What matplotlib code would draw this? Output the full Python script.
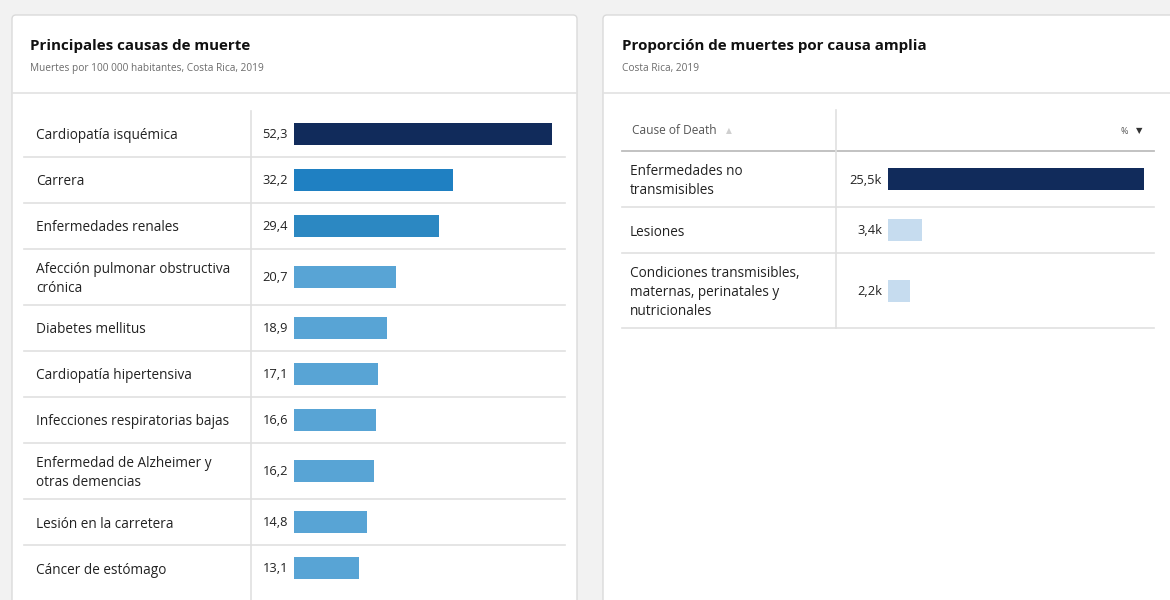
import matplotlib
matplotlib.use("Agg")
import matplotlib.pyplot as plt
from matplotlib.patches import FancyBboxPatch
from matplotlib.transforms import blended_transform_factory, offset_copy

plt.rcParams["font.family"] = ["Open Sans", "Noto Sans", "DejaVu Sans"]

W, H = 1170, 600

# --- data -----------------------------------------------------------------
left_title = "Principales causas de muerte"
left_subtitle = "Muertes por 100 000 habitantes, Costa Rica, 2019"
left_causes = [
    "Cardiopatía isquémica",
    "Carrera",
    "Enfermedades renales",
    "Afección pulmonar obstructiva\ncrónica",
    "Diabetes mellitus",
    "Cardiopatía hipertensiva",
    "Infecciones respiratorias bajas",
    "Enfermedad de Alzheimer y\notras demencias",
    "Lesión en la carretera",
    "Cáncer de estómago",
]
left_values = [52.3, 32.2, 29.4, 20.7, 18.9, 17.1, 16.6, 16.2, 14.8, 13.1]

right_title = "Proporción de muertes por causa amplia"
right_subtitle = "Costa Rica, 2019"
right_header = "Cause of Death"
right_causes = [
    "Enfermedades no\ntransmisibles",
    "Lesiones",
    "Condiciones transmisibles,\nmaternas, perinatales y\nnutricionales",
]
right_values = [25.5, 3.4, 2.2]  # thousands of deaths

# --- style ----------------------------------------------------------------
left_colors = ["#112b5b", "#1f80c2", "#2c88c2", "#58a4d5", "#58a4d5",
               "#58a4d5", "#58a4d5", "#58a4d5", "#58a4d5", "#58a4d5"]
right_colors = ["#112b5b", "#c6dcef", "#c6dcef"]
ROW_H = {1: 46, 2: 56, 3: 75}
LINE = "#e0e0e0"
TEXT = "#222222"
FS = 9.8


def px_axes(fig, x, y, w, h):
    ax = fig.add_axes([x / W, 1 - (y + h) / H, w / W, h / H])
    ax.set_axis_off()
    return ax


def fmt(v, suffix=""):
    return f"{v:.1f}".replace(".", ",") + suffix


def draw_table(fig, x, top, w, bar_x0, bar_x1, label_x, div_x, causes, values,
               colors, suffix="", last_line=False, div_extra=0):
    heights = [ROW_H[c.count("\n") + 1] for c in causes]
    total = sum(heights)
    ax = px_axes(fig, x, top, w, total)
    scale = (bar_x1 - bar_x0) / max(values)
    ax.set_xlim(-(bar_x0 - x) / scale, (x + w - bar_x0) / scale)
    ax.set_ylim(total, 0)

    edges = [0]
    for hh in heights:
        edges.append(edges[-1] + hh)
    centers = [(a + b) / 2 for a, b in zip(edges[:-1], edges[1:])]

    ax.barh(centers, values, height=22, color=colors, zorder=2)

    tr = blended_transform_factory(ax.transAxes, ax.transData)
    lab_tr = offset_copy(tr, fig=fig, x=0, y=-2, units="dots")
    val_tr = offset_copy(ax.transData, fig=fig, x=-6, y=-1, units="dots")
    for c, cause, v in zip(centers, causes, values):
        ax.text((label_x - x) / w, c, cause, transform=lab_tr, ha="left",
                va="center", fontsize=FS, color=TEXT, linespacing=1.35)
        ax.text(0, c, fmt(v, suffix), transform=val_tr, ha="right",
                va="center", fontsize=FS * 0.95, color=TEXT)

    seps = edges[1:] if last_line else edges[1:-1]
    for e in seps:
        ax.plot([0, 1], [e, e], transform=tr, color=LINE, lw=1.2,
                clip_on=False, zorder=1)
    xd = (div_x - bar_x0) / scale
    ax.plot([xd, xd], [-div_extra, total + (0 if last_line else 20)],
            color=LINE, lw=1.2, clip_on=False, zorder=1)
    return ax


def main():
    fig = plt.figure(figsize=(W / 100, H / 100), dpi=100, facecolor="#f2f2f2")

    bg = px_axes(fig, 0, 0, W, H)
    bg.set_xlim(0, W)
    bg.set_ylim(H, 0)

    # cards
    for cx, cw in [(12, 565), (603, 600)]:
        bg.add_patch(FancyBboxPatch((cx, 15), cw, 640,
                                    boxstyle="round,pad=0,rounding_size=4",
                                    fc="white", ec="#dadada", lw=1))
        bg.plot([cx, cx + cw], [93, 93], color="#e2e2e2", lw=1.2)

    bg.text(30, 46, left_title, fontsize=10.9, weight="bold", color="#111",
            va="center")
    bg.text(30, 68, left_subtitle, fontsize=7.3, color="#6b6b6b", va="center")
    bg.text(622, 46, right_title, fontsize=10.9, weight="bold", color="#111",
            va="center")
    bg.text(622, 68, right_subtitle, fontsize=7.3, color="#6b6b6b", va="center")

    # left table
    draw_table(fig, 24, 111, 541, 294, 552, 36, 251,
               left_causes, left_values, left_colors)

    # right table: header row
    bg.text(632, 130, right_header, fontsize=8.6, color="#555", va="center")
    bg.text(726, 131, "▲", fontsize=5.5, color="#cfcfcf", va="center",
            family=["DejaVu Sans"])
    bg.text(1128, 131, "%", fontsize=6.4, color="#555", va="center",
            ha="right")
    bg.text(1142, 131, "▼", fontsize=6, color="#333", va="center",
            ha="right", family=["DejaVu Sans"])
    bg.plot([622, 1154], [151, 151], color="#bdbdbd", lw=1.3)

    draw_table(fig, 622, 151, 532, 888, 1144, 630, 836,
               right_causes, right_values, right_colors, suffix="k",
               last_line=True, div_extra=41)

    fig.savefig("out.png", dpi=100, facecolor=fig.get_facecolor())
    plt.close(fig)


if __name__ == "__main__":
    main()
